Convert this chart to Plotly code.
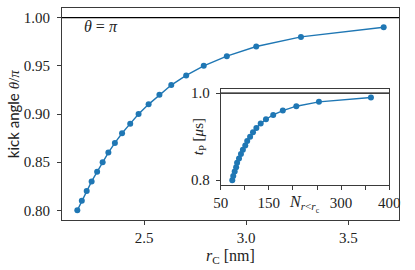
import plotly.graph_objects as go

# data
r_c = [2.173, 2.195, 2.219, 2.243, 2.270, 2.297, 2.325, 2.357, 2.392, 2.432,
       2.473, 2.522, 2.575, 2.633, 2.706, 2.792, 2.905, 3.049, 3.268, 3.673]
theta_over_pi = [0.80, 0.81, 0.82, 0.83, 0.84, 0.85, 0.86, 0.87, 0.88, 0.89,
                 0.90, 0.91, 0.92, 0.93, 0.94, 0.95, 0.96, 0.97, 0.98, 0.99]
n_inside = [74, 76, 79, 82, 84, 88, 92, 96, 101, 105,
            111, 117, 124, 133, 144, 159, 179, 207, 254, 362]
t_p = [0.80, 0.81, 0.82, 0.83, 0.84, 0.85, 0.86, 0.87, 0.88, 0.89,
       0.90, 0.91, 0.92, 0.93, 0.94, 0.95, 0.96, 0.97, 0.98, 0.99]

main_xticks = [2.5, 3.0, 3.5]
main_xlabels = ["2.5", "3.0", "3.5"]
main_yticks = [0.80, 0.85, 0.90, 0.95, 1.00]
main_ylabels = ["0.80", "0.85", "0.90", "0.95", "1.00"]
inset_xticks = [50, 150, 300, 400]
inset_xlabels = ["50", "150", "300", "400"]
inset_xminor = [100, 200, 250, 350]
inset_yticks = [0.8, 1.0]
inset_ylabels = ["0.8", "1.0"]

BLUE = "#1f77b4"
SPINE = "#3a3a3a"
TXT = "#222222"
SERIF = "serif"

fig = go.Figure()

# reference lines at theta = pi
fig.add_trace(go.Scatter(x=[2.0, 4.0], y=[1.0, 1.0], mode="lines",
                         line=dict(color="black", width=1.3),
                         xaxis="x", yaxis="y", showlegend=False, hoverinfo="skip"))
fig.add_trace(go.Scatter(x=r_c, y=theta_over_pi, mode="lines+markers",
                         line=dict(color=BLUE, width=1.4),
                         marker=dict(color=BLUE, size=6),
                         xaxis="x", yaxis="y", showlegend=False))
fig.add_trace(go.Scatter(x=[0, 500], y=[1.0, 1.0], mode="lines",
                         line=dict(color="black", width=1.3),
                         xaxis="x2", yaxis="y2", showlegend=False, hoverinfo="skip"))
fig.add_trace(go.Scatter(x=n_inside, y=t_p, mode="lines+markers",
                         line=dict(color=BLUE, width=1.4),
                         marker=dict(color=BLUE, size=6),
                         xaxis="x2", yaxis="y2", showlegend=False))

tickfont = dict(family=SERIF, size=15, color=TXT)
axis_common = dict(showline=True, linecolor=SPINE, linewidth=1, mirror=True,
                   ticks="outside", ticklen=4, tickwidth=1, tickcolor=SPINE,
                   showgrid=False, zeroline=False, tickfont=tickfont)

fig.update_layout(
    width=415, height=270,
    margin=dict(l=62, r=7, t=5, b=50),
    font=dict(family=SERIF, size=15, color=TXT),
    paper_bgcolor="white", plot_bgcolor="white",
    xaxis=dict(domain=[0, 1], range=[2.098, 3.748], tickmode="array",
               tickvals=main_xticks, ticktext=main_xlabels, anchor="y",
               ticklabelstandoff=0, **axis_common),
    yaxis=dict(domain=[0, 1], range=[0.79, 1.01], tickmode="array",
               tickvals=main_yticks, ticktext=main_ylabels, anchor="x",
               ticklabelstandoff=4, **axis_common),
    xaxis2=dict(domain=[0.471, 0.971], range=[50, 400], tickmode="array",
                tickvals=inset_xticks, ticktext=inset_xlabels, anchor="y2",
                minor=dict(tickmode="array", tickvals=inset_xminor, ticks="outside",
                           ticklen=4, tickwidth=1, tickcolor=SPINE, showgrid=False),
                ticklabelstandoff=0, **axis_common),
    yaxis2=dict(domain=[0.167, 0.619], range=[0.79, 1.01], tickmode="array",
                tickvals=inset_yticks, ticktext=inset_ylabels, anchor="x2",
                ticklabelstandoff=3, **axis_common),
)

fig.add_annotation(text="<i>θ</i> = <i>π</i>", xref="paper", yref="paper",
                   x=0.06, y=0.915, xanchor="left", yanchor="middle", showarrow=False,
                   font=dict(family=SERIF, size=16, color=TXT))
fig.add_annotation(
    text="<span style='font-family:Lato'>kick angle </span><i>θ</i>/<i>π</i>",
    xref="paper", yref="paper", x=-0.145, y=0.5, xanchor="center", yanchor="middle",
    textangle=-90, showarrow=False, font=dict(family=SERIF, size=15, color=TXT))
fig.add_annotation(text="<i>r</i><sub>C</sub> [nm]", xref="paper", yref="paper",
                   x=0.5, y=-0.172, xanchor="center", yanchor="middle", showarrow=False,
                   font=dict(family=SERIF, size=16, color=TXT))
fig.add_annotation(text="<i>N</i><sub><i>r</i>&lt;<i>r</i><sub>c</sub></sub>",
                   xref="paper", yref="paper", x=0.72, y=0.075, xanchor="center",
                   yanchor="middle", showarrow=False,
                   font=dict(family=SERIF, size=16, color=TXT))
fig.add_annotation(text="<i>t</i><sub>P</sub> [<i>μ</i>s]", xref="paper", yref="paper",
                   x=0.405, y=0.393, xanchor="center", yanchor="middle",
                   textangle=-90, showarrow=False,
                   font=dict(family=SERIF, size=15, color=TXT))

fig.write_html("out.html", config={"displayModeBar": False},
               post_script="document.body.style.margin='0px';document.body.style.overflow='hidden';")
